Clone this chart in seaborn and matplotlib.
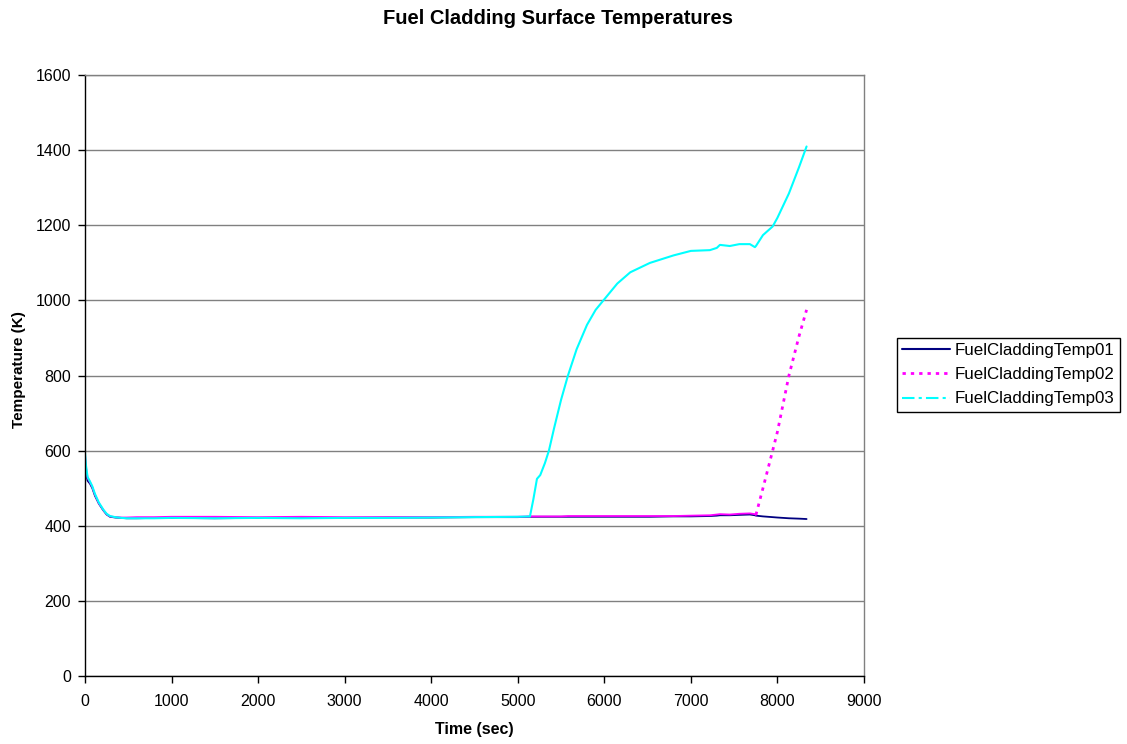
import matplotlib
matplotlib.use("Agg")
import matplotlib.pyplot as plt
import seaborn as sns
import pandas as pd
from matplotlib.lines import Line2D

# values
time_sec = [0, 12, 30, 58, 85, 115, 160, 212, 250, 289, 350, 420, 481, 600, 800,
            1000, 1500, 2000, 2500, 3000, 3500, 4000, 4500, 5000, 5141, 5180, 5222,
            5260, 5314, 5360, 5420, 5500, 5580, 5680, 5800, 5900, 6007, 6150, 6300,
            6527, 6800, 7000, 7220, 7300, 7336, 7450, 7560, 7682, 7740, 7752, 7833,
            7945, 8000, 8133, 8250, 8337]

temp01 = [555, 540, 520, 512, 500, 480, 459, 441, 430, 424, 422, 421, 420, 420, 421,
          421, 420, 421, 421, 421, 422, 422, 423, 423, 424, 424, 424,
          424, 424, 424, 424, 424, 424, 424, 424, 424, 424, 424, 424,
          424, 425, 425, 426, 427, 428, 428, 429, 430, 428, 427, 425,
          423, 422, 420, 419, 418]

temp02 = [590, 555, 528, 516, 503, 483, 460, 442, 431, 425, 423, 422, 422, 423, 423,
          424, 424, 423, 424, 423, 423, 423, 424, 424, 425, 425, 425,
          425, 425, 425, 425, 425, 426, 426, 426, 426, 426, 426, 426,
          426, 426, 427, 428, 430, 431, 430, 432, 433, 431, 429, 500,
          600, 650, 800, 905, 975]

temp03 = [595, 560, 530, 518, 505, 485, 462, 443, 432, 426, 423, 421, 420, 420, 420,
          421, 420, 421, 420, 421, 421, 422, 423, 424, 425, 470, 525,
          535, 567, 600, 660, 735, 800, 870, 935, 975, 1005, 1045, 1075,
          1100, 1120, 1132, 1134, 1140, 1148, 1145, 1150, 1150, 1142, 1145, 1174,
          1197, 1220, 1285, 1355, 1410]

series_names = ["FuelCladdingTemp01", "FuelCladdingTemp02", "FuelCladdingTemp03"]
series_colors = ["#000080", "#FF00FF", "#00FFFF"]

df = pd.DataFrame({"time": time_sec, "t01": temp01, "t02": temp02, "t03": temp03})

sns.set_style("white")
plt.rcParams["font.family"] = ["Liberation Sans", "DejaVu Sans"]
plt.rcParams["text.color"] = "black"
plt.rcParams["axes.labelcolor"] = "black"
plt.rcParams["xtick.color"] = "black"
plt.rcParams["ytick.color"] = "black"

fig = plt.figure(figsize=(11.27, 7.44), dpi=100)
ax = fig.add_axes([0.0754, 0.0914, 0.6912, 0.8076])

# navy solid
sns.lineplot(data=df, x="time", y="t01", ax=ax, color=series_colors[0], lw=1.3)
# magenta: dense flat part looks solid, steep tail dotted
flat = df[df["time"] <= 7752]
tail = df[df["time"] >= 7752]
sns.lineplot(data=flat, x="time", y="t02", ax=ax, color=series_colors[1], lw=1.3)
sns.lineplot(data=tail, x="time", y="t02", ax=ax, color=series_colors[1], lw=2,
             linestyle=(0, (1.2, 1.8)))
# cyan on top
sns.lineplot(data=df, x="time", y="t03", ax=ax, color=series_colors[2], lw=1.5)

ax.set_xlim(0, 9000)
ax.set_ylim(0, 1600)
ax.set_xticks(range(0, 9001, 1000))
ax.set_yticks(range(0, 1601, 200))
ax.yaxis.grid(True, color="#808080", lw=1)
ax.xaxis.grid(False)
ax.set_axisbelow(True)

for side in ["left", "bottom"]:
    ax.spines[side].set_color("black")
    ax.spines[side].set_linewidth(1)
for side in ["top", "right"]:
    ax.spines[side].set_color("#808080")
    ax.spines[side].set_linewidth(1)

ax.tick_params(axis="both", which="major", direction="out", length=5, width=1,
               color="black", labelsize=11.5, bottom=True, left=True)
ax.tick_params(axis="x", pad=8)
ax.tick_params(axis="y", pad=5)

ax.set_xlabel("Time (sec)", fontsize=11.5, fontweight="bold", labelpad=9)
ax.set_ylabel("Temperature (K)", fontsize=11, fontweight="bold")
ax.yaxis.set_label_coords(-0.076, 0.51)
fig.suptitle("Fuel Cladding Surface Temperatures", fontsize=14.5, fontweight="bold",
             x=0.495, y=0.988)

handles = [
    Line2D([], [], color=series_colors[0], lw=1.5),
    Line2D([], [], color=series_colors[1], lw=2, linestyle=(0, (1.2, 1.8))),
    Line2D([], [], color=series_colors[2], lw=1.5, linestyle=(0, (6, 2, 1.5, 2))),
]
leg = fig.legend(handles, series_names, loc="upper left", bbox_to_anchor=(0.796, 0.546),
                 fontsize=12.2, frameon=True, fancybox=False, framealpha=1,
                 edgecolor="black", handlelength=2.8, handletextpad=0.3,
                 labelspacing=0.55, borderpad=0.3, borderaxespad=0)
leg.get_frame().set_linewidth(1)

fig.savefig("out.png", dpi=100)
